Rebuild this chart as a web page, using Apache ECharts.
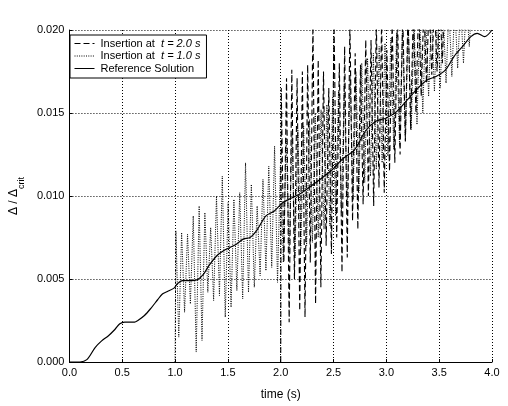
<!DOCTYPE html>
<html>
<head>
<meta charset="utf-8">
<script src="https://cdn.jsdelivr.net/npm/echarts@6/dist/echarts.min.js"></script>
<style>html,body{margin:0;padding:0;background:#fff}#c{width:508px;height:406px}</style>
</head>
<body>
<div id="c"></div>
<script>
// Reference solution
var refT = [0.00,0.10,0.165,0.243,0.305,0.367,0.43,0.477,0.523,0.617,0.648,0.71,0.773,0.835,0.88,0.928,0.99,1.02,1.07,1.15,1.21,1.27,1.32,1.395,1.458,1.52,1.58,1.645,1.71,1.77,1.86,1.94,2.02,2.11,2.20,2.33,2.49,2.58,2.70,2.80,2.90,3.00,3.10,3.20,3.30,3.39,3.47,3.56,3.64,3.72,3.80,3.86,3.93,4.00];
var refV = [0,0,0.00014,0.00087,0.00127,0.00157,0.00196,0.0023,0.0024,0.0024,0.0025,0.0028,0.00325,0.00375,0.0041,0.00425,0.00445,0.0047,0.0049,0.0049,0.00495,0.0053,0.0058,0.0064,0.0067,0.0069,0.0071,0.0074,0.0075,0.0079,0.0088,0.0091,0.0096,0.0099,0.0102,0.0108,0.0116,0.0122,0.0128,0.0139,0.0145,0.0147,0.0151,0.0158,0.0165,0.0170,0.0172,0.0176,0.0184,0.0190,0.0196,0.0198,0.0196,0.0200];

// Insertion at t = 1.0 s (dotted)
var dotT = [1.000,1.008,1.035,1.062,1.090,1.118,1.145,1.172,1.200,1.228,1.255,1.282,1.310,1.337,1.365,1.392,1.420,1.447,1.475,1.502,1.530,1.557,1.585,1.612,1.640,1.667,1.695,1.722,1.750,1.777,1.805,1.832,1.860,1.887,1.915,1.942,1.970,1.997,
  2.025,2.052,2.080,2.107,2.135,2.162,2.190,2.217,2.245,2.272,2.300,2.327,2.355,2.382,2.410,2.437,2.465,2.492,2.520,2.547,2.575,2.602,2.630,2.657,2.685,2.712,2.740,2.767,2.795,2.822,2.850,2.877,2.905,2.932,2.960,2.987,
  3.015,3.042,3.070,3.097,3.125,3.152,3.180,3.207,3.235,3.262,3.290,3.317,3.345,3.372,3.400,3.427,3.455,3.482,3.510,3.537,3.565,3.592,3.620,3.647,3.675,3.702,3.730,3.757,3.785,3.812,3.840];
var dotV = [0.0000,0.0079,0.0015,0.0078,0.0030,0.0077,0.0035,0.0088,0.0006,0.0094,0.0013,0.0090,0.0042,0.0081,0.0037,0.0100,0.0040,0.0112,0.0027,0.0096,0.0033,0.0098,0.0043,0.0102,0.0038,0.0120,0.0042,0.0107,0.0045,0.0094,0.0052,0.0110,0.0055,0.0118,0.0057,0.0130,0.0048,0.0118,
  0.0060,0.0135,0.0065,0.0138,0.0063,0.0140,0.0068,0.0142,0.0070,0.0146,0.0072,0.0150,0.0075,0.0152,0.0080,0.0155,0.0082,0.0160,0.0088,0.0163,0.0090,0.0168,0.0094,0.0172,0.0098,0.0175,0.0102,0.0180,0.0108,0.0183,0.0112,0.0186,0.0116,0.0190,0.0120,0.0192,
  0.0124,0.0195,0.0128,0.0198,0.0130,0.0200,0.0133,0.0203,0.0140,0.0205,0.0143,0.0207,0.0150,0.0208,0.0160,0.0210,0.0163,0.0210,0.0165,0.0212,0.0168,0.0213,0.0172,0.0215,0.0177,0.0216,0.0180,0.0218,0.0190,0.0220,0.0215];

// Insertion at t = 2.0 s (dashed)
var dashT = [2.000,2.005,2.030,2.055,2.080,2.105,2.130,2.155,2.180,2.205,2.230,2.255,2.280,2.305,2.330,2.355,2.380,2.405,2.430,2.455,2.480,2.505,2.530,2.555,2.580,2.605,2.630,2.655,2.680,2.705,2.730,2.755,2.780,2.805,2.830,2.855,2.880,2.905,2.930,2.955,2.980,
  3.005,3.030,3.055,3.080,3.105,3.130,3.155,3.180,3.205,3.230,3.255,3.280,3.305,3.330,3.355,3.380,3.405,3.430,3.455,3.480,3.505,3.530,3.555];
var dashV = [0.0000,0.0165,0.0060,0.0171,0.0024,0.0176,0.0050,0.0171,0.0031,0.0175,0.0027,0.0179,0.0060,0.0205,0.0035,0.0182,0.0045,0.0175,0.0070,0.0165,0.0065,0.0205,0.0075,0.0180,0.0054,0.0190,0.0063,0.0205,0.0085,0.0186,0.0080,0.0179,0.0095,0.0194,0.0100,0.0194,0.0094,0.0205,0.0105,0.0205,0.0102,
  0.0188,0.0115,0.0205,0.0120,0.0210,0.0125,0.0210,0.0133,0.0212,0.0140,0.0212,0.0150,0.0215,0.0160,0.0215,0.0168,0.0218,0.0173,0.0218,0.0175,0.0220,0.0180,0.0225];

var xTicks = ['0.0','0.5','1.0','1.5','2.0','2.5','3.0','3.5','4.0'];
var yTicks = ['0.000','0.005','0.010','0.015','0.020'];

function pairs(t, v) { return t.map(function (x, i) { return [x, v[i]]; }); }

var FONT = 'Liberation Sans, Arial, Helvetica, sans-serif';
var chart = echarts.init(document.getElementById('c'), null, {renderer: 'canvas'});
chart.setOption({
  animation: false,
  backgroundColor: '#fff',
  textStyle: {fontFamily: FONT, color: '#000'},
  grid: {left: 65, right: 16, top: 30, bottom: 38, containLabel: false},
  xAxis: {
    type: 'value', min: 0, max: 4, interval: 0.5,
    name: 'time (s)', nameLocation: 'middle', nameGap: 27,
    nameTextStyle: {fontFamily: FONT, fontSize: 12, color: '#000'},
    axisLine: {show: true, onZero: false, lineStyle: {color: '#000', width: 1}},
    axisTick: {show: true, inside: true, length: 3, lineStyle: {color: '#000'}},
    axisLabel: {color: '#000', fontFamily: FONT, fontSize: 11, margin: 5,
      formatter: function (v) { return xTicks[Math.round(v / 0.5)]; }},
    splitLine: {show: true, lineStyle: {color: '#000', width: 1, type: [1, 2]}}
  },
  yAxis: {
    type: 'value', min: 0, max: 0.02, interval: 0.005,
    name: '{a|Δ / Δ}{s|crit}', nameLocation: 'middle', nameGap: 40, nameRotate: 90,
    nameTextStyle: {fontFamily: FONT, color: '#000',
      rich: {a: {fontFamily: FONT, fontSize: 12, color: '#000', verticalAlign: 'top', lineHeight: 18},
             s: {fontFamily: FONT, fontSize: 9, color: '#000', verticalAlign: 'bottom', lineHeight: 18, padding: [9, 0, 0, 0]}}},
    axisLine: {show: true, lineStyle: {color: '#000', width: 1}},
    axisTick: {show: true, inside: true, length: 3, lineStyle: {color: '#000'}},
    axisLabel: {color: '#000', fontFamily: FONT, fontSize: 11, margin: 5,
      formatter: function (v) { return yTicks[Math.round(v / 0.005)]; }},
    splitLine: {show: true, lineStyle: {color: '#000', width: 1, type: [1, 2]}}
  },
  legend: {
    left: 70, top: 35, orient: 'vertical',
    backgroundColor: '#fff', borderColor: '#000', borderWidth: 1,
    padding: [3, 6, 4, 4], itemGap: 1.5, itemWidth: 20, itemHeight: 12,
    selectedMode: false,
    itemStyle: {opacity: 0, borderWidth: 0},
    lineStyle: {width: 1},
    textStyle: {fontFamily: FONT, fontSize: 11, color: '#000', padding: [0, 0, 0, 1],
      rich: {n: {fontFamily: FONT, fontSize: 11, color: '#000'},
             i: {fontFamily: FONT, fontSize: 11, color: '#000', fontStyle: 'italic'}}},
    formatter: function (name) {
      var m = name.match(/^(Insertion at)\s+(.*)$/);
      if (m) return '{n|' + m[1] + '  }{i|' + m[2] + '}';
      return '{n|' + name + '}';
    },
    data: ['Insertion at t = 2.0 s', 'Insertion at t = 1.0 s', 'Reference Solution']
  },
  series: [
    {name: 'Insertion at t = 2.0 s', type: 'line', data: pairs(dashT, dashV), symbol: 'none',
     clip: true, lineStyle: {color: '#000', width: 1.1, type: [6, 3]}, itemStyle: {color: '#000'}},
    {name: 'Insertion at t = 1.0 s', type: 'line', data: pairs(dotT, dotV), symbol: 'none',
     clip: true, lineStyle: {color: '#000', width: 1, type: [1, 1.3]}, itemStyle: {color: '#000'}},
    {name: 'Reference Solution', type: 'line', data: pairs(refT, refV), symbol: 'none', smooth: 0.3,
     clip: true, lineStyle: {color: '#000', width: 1.2, type: 'solid'}, itemStyle: {color: '#000'}}
  ]
});
</script>
</body>
</html>
